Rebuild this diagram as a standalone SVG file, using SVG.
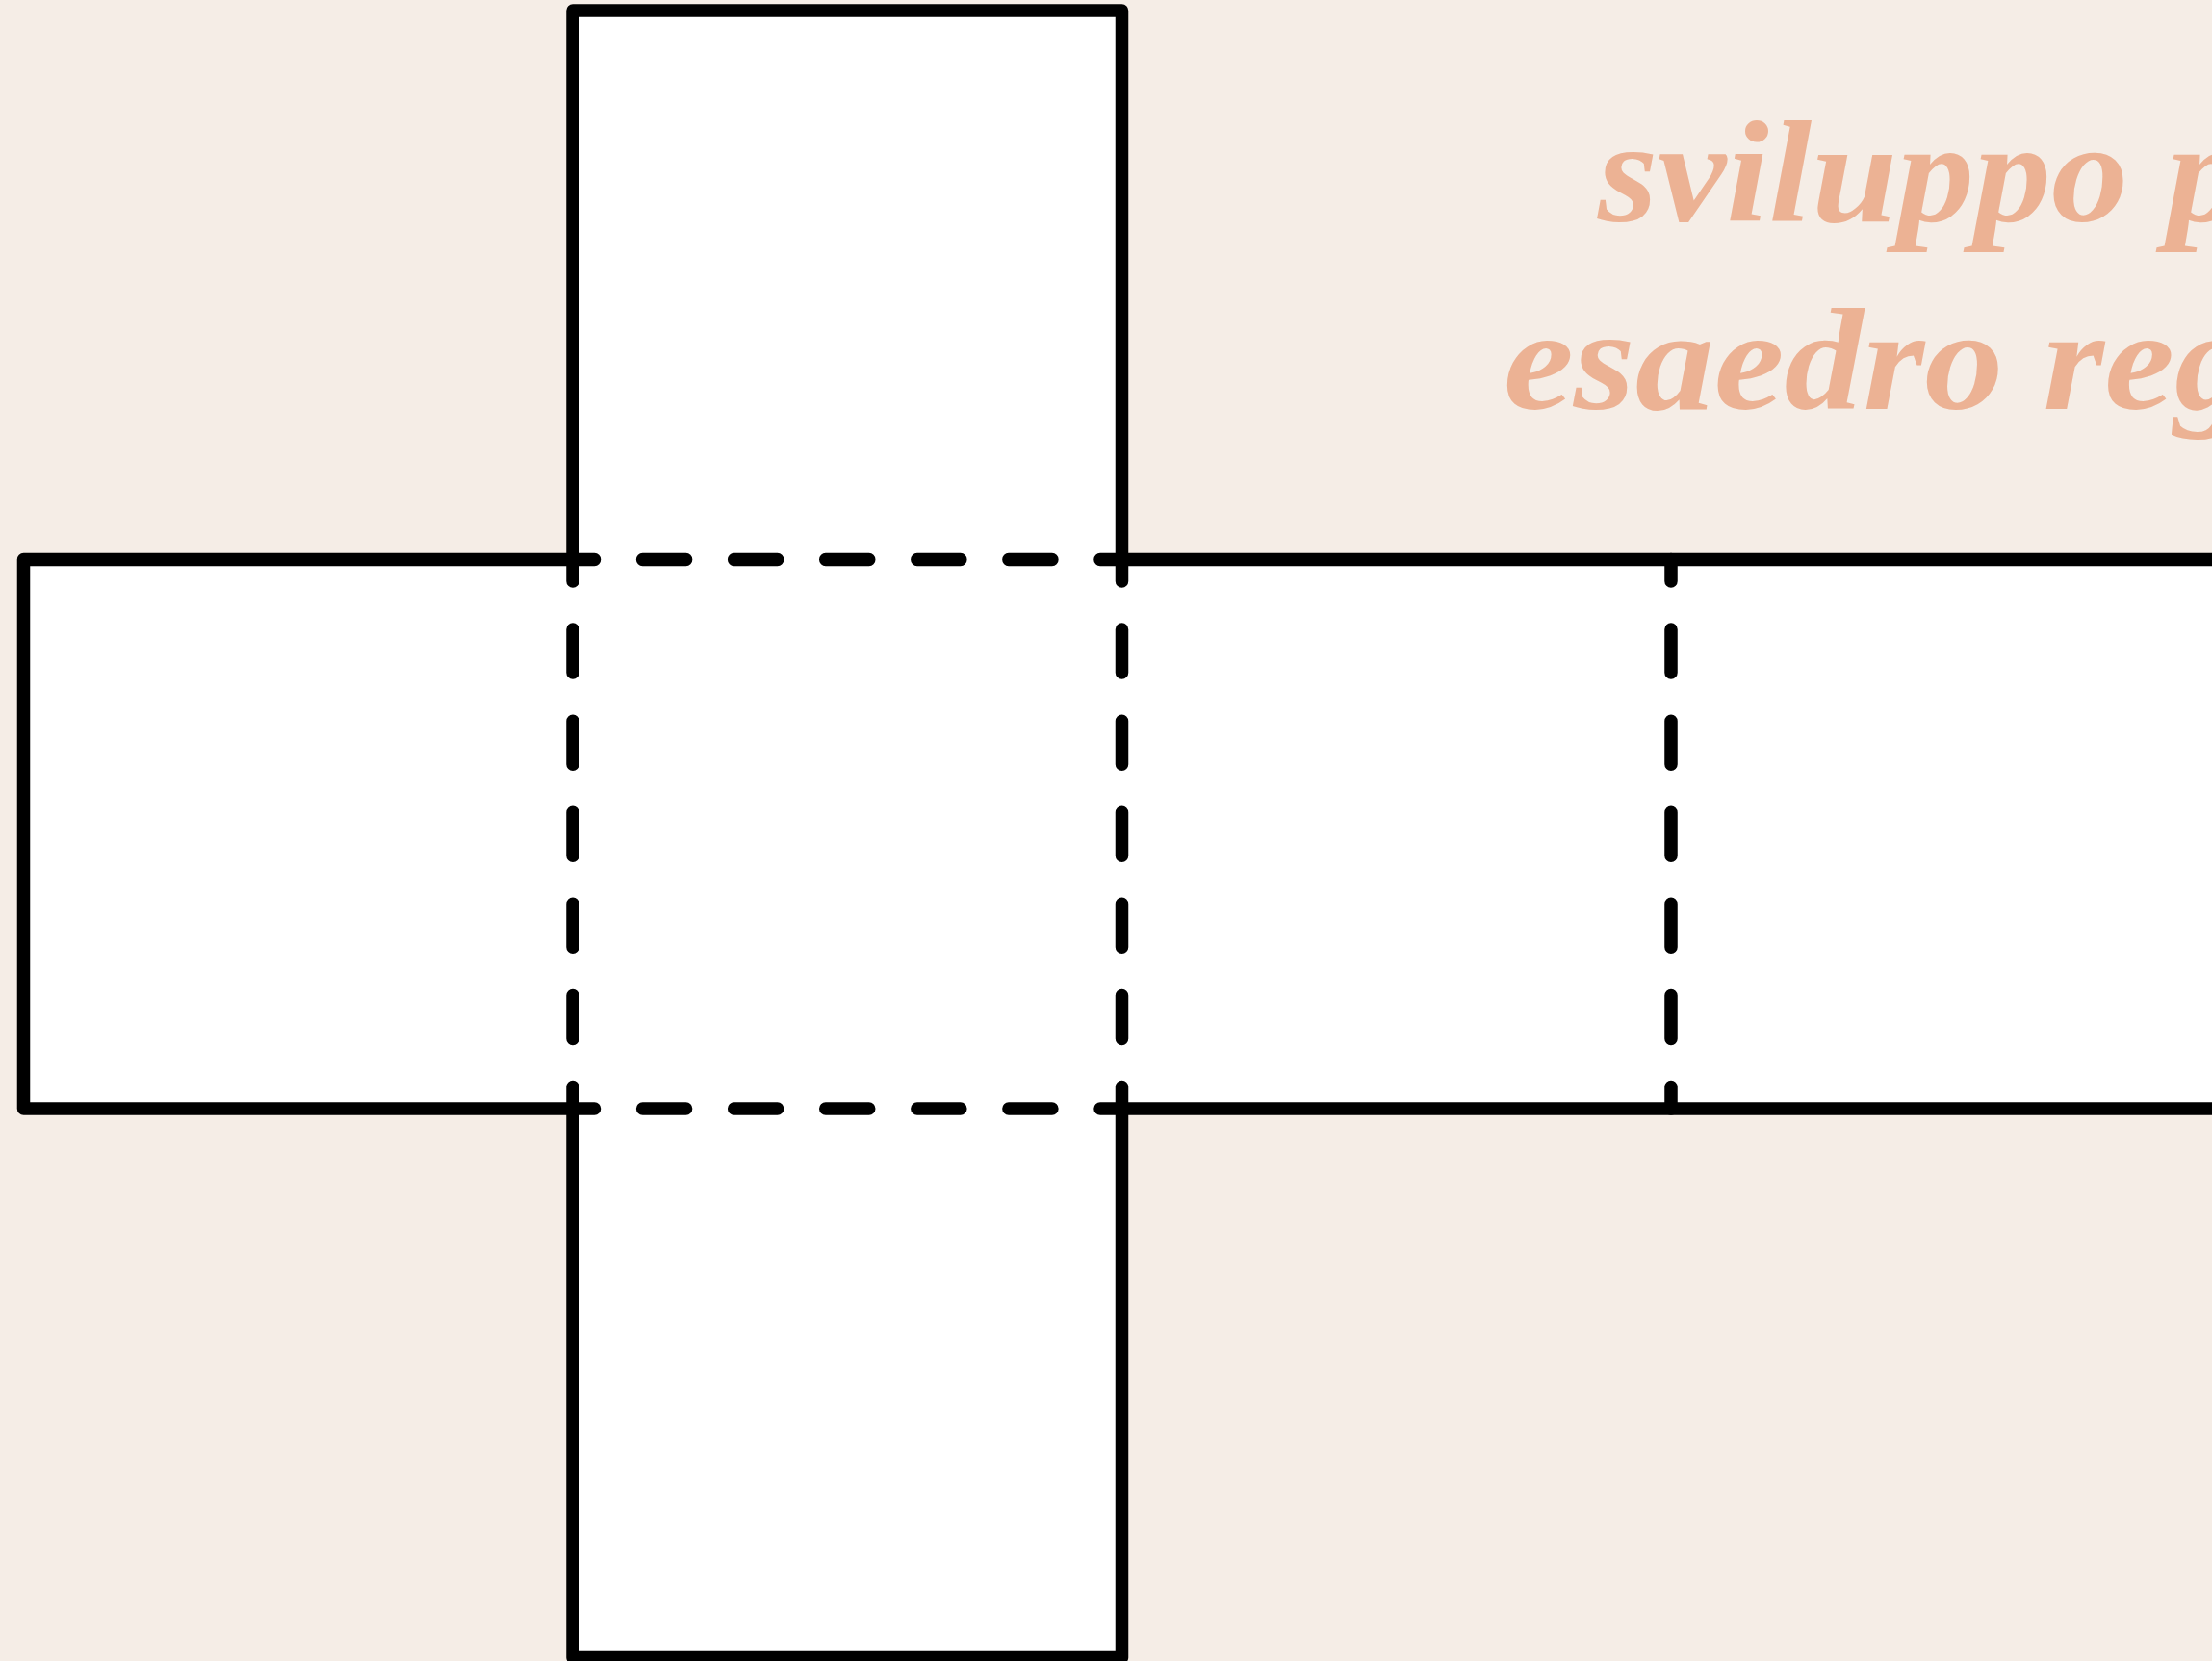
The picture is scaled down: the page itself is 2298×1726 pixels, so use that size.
<svg xmlns="http://www.w3.org/2000/svg" width="2298" height="1726" viewBox="0 0 2298 1726">
  <style>
    .outline { fill: #ffffff; stroke: #000000; stroke-width: 13.5; stroke-linejoin: round; stroke-linecap: round; }
    .fold { fill: none; stroke: #000000; stroke-width: 13.5; stroke-linecap: round; stroke-dasharray: 45 50.083; stroke-dashoffset: 22.5; }
    .title { font-family: "Liberation Serif", "DejaVu Serif", serif; font-style: italic; font-weight: bold; font-size: 150px; fill: #ECB294; }
  </style>
  <rect x="0" y="0" width="2298" height="1726" fill="#F5EDE6"/>
  <g id="net">
    <path class="outline" d="M595,581.5 V11 H1165.5 V581.5 H2306.5 V1152 H1165.5 V1722.5 H595 V1152 H24.5 V581.5 Z"/>
  </g>
  <g id="folds">
    <line class="fold" x1="595" y1="581.5" x2="1165.5" y2="581.5"/>
    <line class="fold" x1="595" y1="1152" x2="1165.5" y2="1152"/>
    <line class="fold" x1="595" y1="581.5" x2="595" y2="1152"/>
    <line class="fold" x1="1165.5" y1="581.5" x2="1165.5" y2="1152"/>
    <line class="fold" x1="1736" y1="581.5" x2="1736" y2="1152"/>
  </g>
  <g id="title">
    <text class="title" x="1660" y="230" textLength="671" lengthAdjust="spacingAndGlyphs">sviluppo p</text>
    <text class="title" x="1562" y="425" textLength="779" lengthAdjust="spacingAndGlyphs">esaedro reg</text>
  </g>
</svg>
